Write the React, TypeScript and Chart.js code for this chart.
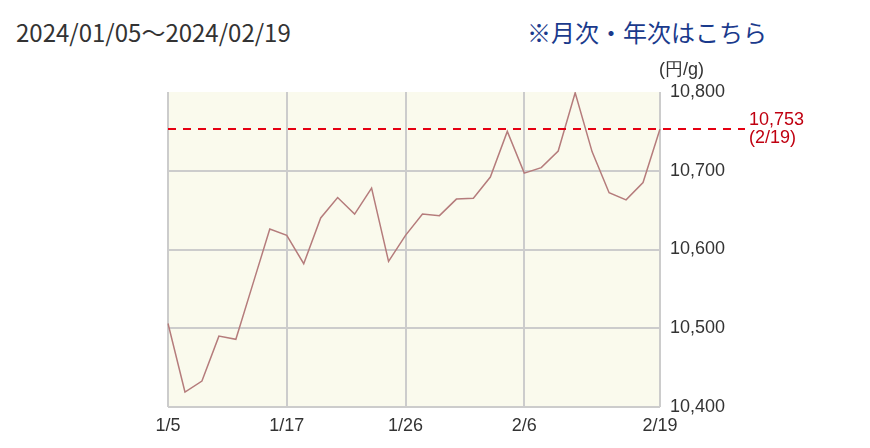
import React, { useEffect, useRef } from "react";
import { Chart, registerables } from "chart.js";

Chart.register(...registerables);

const dates = [
  "1/5", "1/9", "1/10", "1/11", "1/12", "1/15", "1/16", "1/17", "1/18", "1/19",
  "1/22", "1/23", "1/24", "1/25", "1/26", "1/29", "1/30", "1/31", "2/1", "2/2",
  "2/5", "2/6", "2/7", "2/8", "2/9", "2/13", "2/14", "2/15", "2/16", "2/19",
];
const prices = [
  10506, 10419, 10433, 10490, 10486, 10556, 10626, 10618, 10582, 10640,
  10666, 10645, 10678, 10585, 10618, 10645, 10643, 10664, 10665, 10692,
  10750, 10697, 10704, 10725, 10799, 10724, 10672, 10663, 10685, 10753,
];
const shownTicks = ["1/5", "1/17", "1/26", "2/6", "2/19"];
const yTicks = [10400, 10500, 10600, 10700, 10800];
const latestValue = 10753;
const latestLabel = "10,753";
const latestDate = "(2/19)";
const unitLabel = "(円/g)";
const periodText = "2024/01/05～2024/02/19";
const linkText = "※月次・年次はこちら";

const FONT = "Arial, 'Liberation Sans', sans-serif";

const decorPlugin = {
  id: "decor",
  beforeDraw(chart: any) {
    const { ctx, chartArea } = chart;
    ctx.save();
    ctx.fillStyle = "#fafaed";
    ctx.fillRect(chartArea.left, chartArea.top, chartArea.right - chartArea.left, chartArea.bottom - chartArea.top);
    ctx.restore();
  },
  afterDatasetsDraw(chart: any) {
    const { ctx, chartArea, scales } = chart;
    const y = scales.y.getPixelForValue(latestValue);
    ctx.save();
    ctx.strokeStyle = "#e60012";
    ctx.lineWidth = 2;
    ctx.setLineDash([8, 7]);
    ctx.beginPath();
    ctx.moveTo(chartArea.left, y);
    ctx.lineTo(745, y);
    ctx.stroke();
    ctx.setLineDash([]);
    ctx.fillStyle = "#c00010";
    ctx.font = "18px " + FONT;
    ctx.textAlign = "left";
    ctx.textBaseline = "middle";
    ctx.fillText(latestLabel, 749, y - 9);
    ctx.fillText(latestDate, 749, y + 9);
    ctx.fillStyle = "#333333";
    ctx.fillText(unitLabel, 659, chartArea.top - 22);
    ctx.restore();
  },
};

export default function App() {
  const ref = useRef<HTMLCanvasElement | null>(null);

  useEffect(() => {
    if (!ref.current) return;
    const chart = new Chart(ref.current, {
      type: "line",
      data: {
        labels: dates,
        datasets: [
          {
            data: prices,
            borderColor: "#b57c7c",
            borderWidth: 1.5,
            pointRadius: 0,
            tension: 0,
            fill: false,
          },
        ],
      },
      options: {
        responsive: false,
        animation: false,
        events: [],
        layout: { padding: { left: 168, top: 92, right: 130, bottom: 11 } },
        plugins: { legend: { display: false }, tooltip: { enabled: false } },
        scales: {
          x: {
            type: "category",
            offset: false,
            border: { display: false },
            grid: {
              drawTicks: false,
              lineWidth: 2,
              color: (c: any) =>
                shownTicks.includes(dates[c.index]) ? "#cccccc" : "rgba(0,0,0,0)",
            },
            ticks: {
              autoSkip: false,
              maxRotation: 0,
              padding: 8,
              color: "#333333",
              font: { family: FONT, size: 18 },
              callback: (_v: any, i: number) =>
                shownTicks.includes(dates[i]) ? dates[i] : "",
            },
            afterFit: (s: any) => {
              s.height = 30;
            },
          },
          y: {
            position: "right",
            min: yTicks[0],
            max: yTicks[yTicks.length - 1],
            border: { display: false },
            afterBuildTicks: (s: any) => {
              s.ticks = yTicks.map((v) => ({ value: v }));
            },
            grid: {
              drawTicks: false,
              lineWidth: 2,
              color: (c: any) =>
                c.tick && c.tick.value === yTicks[yTicks.length - 1] ? "rgba(0,0,0,0)" : "#cccccc",
            },
            ticks: {
              padding: 10,
              color: "#333333",
              font: { family: FONT, size: 18 },
              callback: (v: any) => Number(v).toLocaleString("en-US"),
            },
            afterFit: (s: any) => {
              s.width = 80;
            },
          },
        },
      },
      plugins: [decorPlugin],
    });
    return () => chart.destroy();
  }, []);

  return (
    <div style={{ position: "absolute", left: 0, top: 0, width: 870, height: 448, background: "#fff" }}>
      <div
        style={{
          position: "absolute",
          left: 16,
          top: 17,
          lineHeight: "30px",
          fontSize: 24,
          fontFamily: "'Noto Sans CJK JP', sans-serif",
          color: "#333333",
          whiteSpace: "nowrap",
        }}
      >
        {periodText}
      </div>
      <div
        style={{
          position: "absolute",
          left: 527,
          top: 17,
          lineHeight: "30px",
          fontSize: 24,
          fontFamily: "'Noto Sans CJK JP', sans-serif",
          color: "#1a3a8c",
          whiteSpace: "nowrap",
        }}
      >
        {linkText}
      </div>
      <canvas ref={ref} width={870} height={448} style={{ position: "absolute", left: 0, top: 0 }} />
    </div>
  );
}
